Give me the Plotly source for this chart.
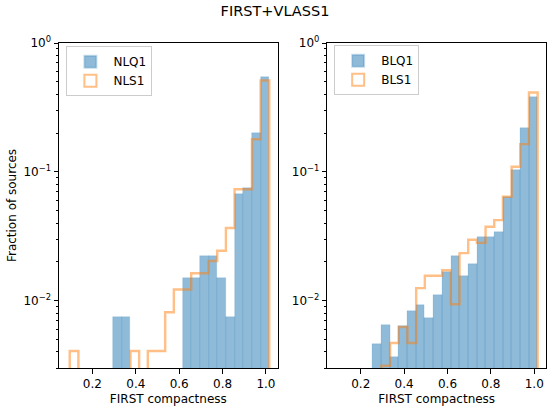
import numpy as np
import plotly.graph_objects as go

# shared bin edges (23 bins, width 0.04)
bin_edges = np.linspace(0.0954, 1.0154, 24)

# fraction of sources per bin
nlq1 = [0, 0, 0, 0, 0, 0.00746, 0.00746, 0, 0, 0, 0, 0, 0,
        0.0149, 0.0149, 0.0224, 0.0224, 0.0149, 0.00746,
        0.0672, 0.0746, 0.2015, 0.545]
nls1 = [0.00407, 0, 0, 0, 0, 0, 0, 0.00407, 0, 0.00407, 0.00407,
        0.00813, 0.0122, 0.0122, 0.0163, 0.0163, 0.0203, 0.0244,
        0.0366, 0.0732, 0.0732, 0.1789, 0.5122]
blq1 = [0, 0, 0, 0, 0.00461, 0.00644, 0.00364, 0.00637, 0.00832,
        0.0092, 0.00735, 0.011, 0.0166, 0.0221, 0.0156, 0.0192,
        0.0312, 0.0312, 0.0343, 0.064, 0.103, 0.217, 0.382]
bls1 = [0, 0, 0, 0, 0, 0.00312, 0.00469, 0.00625, 0.00469, 0.0125,
        0.0156, 0.0156, 0.0172, 0.00938, 0.0234, 0.0297, 0.0281,
        0.0375, 0.0422, 0.0641, 0.1094, 0.1641, 0.4125]

blue = "rgba(31,119,180,0.5)"
orange = "rgba(255,127,14,0.5)"
floor = 1e-6


def step_xy(edges, vals):
    # outline of a step histogram, zero bins dropped below the axis
    xs, ys = [edges[0]], [floor]
    for i, v in enumerate(vals):
        v = v if v > 0 else floor
        xs += [edges[i], edges[i + 1]]
        ys += [v, v]
    xs.append(edges[-1])
    ys.append(floor)
    return xs, ys


centers = (bin_edges[:-1] + bin_edges[1:]) / 2
width = bin_edges[1] - bin_edges[0]

fig = go.Figure()

panels = [("x", "y", "legend", "NLQ1", nlq1, "NLS1", nls1),
          ("x2", "y2", "legend2", "BLQ1", blq1, "BLS1", bls1)]

for xa, ya, lg, qname, qvals, sname, svals in panels:
    qy = [v if v > 0 else None for v in qvals]
    fig.add_trace(go.Bar(
        x=centers, y=qy, width=width, name=qname,
        marker=dict(color=blue, line=dict(color="rgba(31,119,180,0.25)", width=0.6)),
        xaxis=xa, yaxis=ya, legend=lg, showlegend=True))
    sx, sy = step_xy(bin_edges, svals)
    fig.add_trace(go.Scatter(
        x=sx, y=sy, mode="lines", line=dict(color=orange, width=2.4),
        xaxis=xa, yaxis=ya, showlegend=False, hoverinfo="skip"))
    # legend entry drawn as an outlined patch
    fig.add_trace(go.Bar(
        x=[None], y=[None], name=sname,
        marker=dict(color="rgba(255,255,255,0)", line=dict(color=orange, width=2)),
        xaxis=xa, yaxis=ya, legend=lg, showlegend=True))

minor_vals = [m * 10.0 ** e for e in (-3, -2, -1) for m in range(2, 10) if m * 10.0 ** e >= 0.003]

fs = 12

axis_common = dict(
    showline=True, linecolor="black", linewidth=1, mirror=True,
    ticks="outside", ticklen=4.5, tickwidth=1, tickcolor="black",
    showgrid=False, zeroline=False, automargin=False,
    tickfont=dict(size=fs, color="black"),
)

xcommon = dict(axis_common, range=[0.046, 1.054],
               tickvals=[0.2, 0.4, 0.6, 0.8, 1.0],
               ticktext=["0.2", "0.4", "0.6", "0.8", "1.0"],
               title=dict(text="FIRST compactness", font=dict(size=fs, color="black"), standoff=4))

ycommon = dict(axis_common, type="log", range=[np.log10(0.003), 0],
               tickvals=[1e-2, 1e-1, 1],
               ticktext=["10<sup>\u22122</sup>", "10<sup>\u22121</sup>", "10<sup>0</sup>"],
               minor=dict(tickvals=minor_vals, ticks="outside", ticklen=2.5,
                          tickwidth=0.8, tickcolor="black", showgrid=False))

legend_common = dict(
    bgcolor="rgba(255,255,255,0.8)", bordercolor="#cccccc", borderwidth=1,
    font=dict(size=fs, color="black"), xanchor="left", yanchor="top",
    tracegroupgap=0, itemsizing="constant", itemwidth=36,
)

fig.update_layout(
    width=550, height=411,
    margin=dict(l=59.3, r=4.3, t=42.7, b=42.7),
    paper_bgcolor="white", plot_bgcolor="white",
    font=dict(family="DejaVu Sans", color="black"),
    barmode="overlay", bargap=0,
    title=dict(text="FIRST+VLASS1", x=0.5, xref="container", xanchor="center",
               y=1 - 11 / 411, yref="container", yanchor="middle",
               font=dict(size=14.5, color="black")),
    xaxis=dict(xcommon, domain=[0, 0.449], anchor="y"),
    xaxis2=dict(xcommon, domain=[0.551, 1.0], anchor="y2"),
    yaxis=dict(ycommon, domain=[0, 1], anchor="x",
               title=dict(text="Fraction of sources", font=dict(size=fs, color="black"), standoff=4)),
    yaxis2=dict(ycommon, domain=[0, 1], anchor="x2"),
    legend=dict(legend_common, x=0.0152, y=0.99),
    legend2=dict(legend_common, x=0.565, y=0.993),
    showlegend=True,
)

# drop the page's default body margin so the figure sits at the window origin
fig.write_html("out.html", config={"displayModeBar": False},
               post_script="document.body.style.margin='0';")
